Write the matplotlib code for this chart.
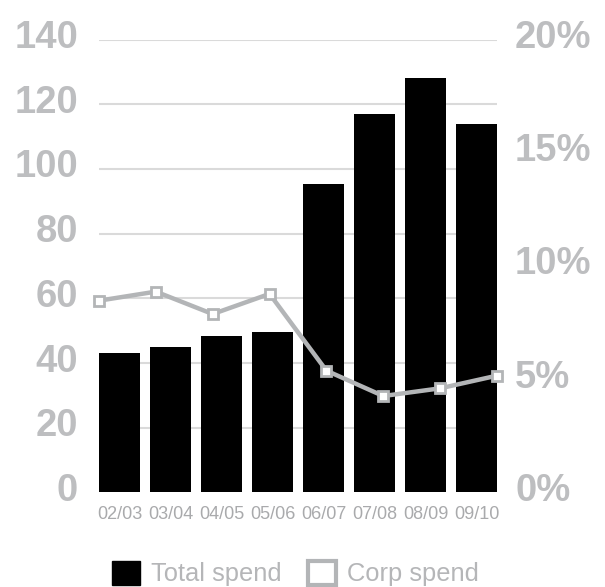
import numpy as np
import matplotlib
matplotlib.use("Agg")
import matplotlib.pyplot as plt
import matplotlib.transforms as mtransforms
from matplotlib.patches import Patch

# données
years = ["02/03", "03/04", "04/05", "05/06", "06/07", "07/08", "08/09", "09/10"]
total_spend = [43, 45, 48.5, 49.5, 95.5, 117, 128, 114]
corp_spend_pct = [8.47, 8.87, 7.88, 8.77, 5.38, 4.26, 4.6, 5.16]
left_ticks = [0, 20, 40, 60, 80, 100, 120, 140]
right_ticks = [0, 5, 10, 15, 20]

label_grey = "#bdbec0"
line_grey = "#b3b5b7"
grid_grey = "#dadada"
tick_font = {"family": "Liberation Sans", "weight": "bold", "size": 27.5}

fig = plt.figure(figsize=(6.05, 5.87), dpi=100)
rect = [0.1636, 0.161, 0.6579, 0.7716]
lift = mtransforms.ScaledTranslation(0, 4 / 72, fig.dpi_scale_trans)

# barres (axe de gauche)
ax = fig.add_axes(rect)
x = np.arange(len(years))
ax.bar(x, total_spend, width=0.8, color="black", zorder=2)
ax.set_xlim(-0.4, len(years) - 0.6)
ax.set_ylim(0, 140)
ax.set_yticks(left_ticks)
ax.set_yticklabels([str(t) for t in left_ticks], color=label_grey, **tick_font)
ax.set_xticks(x)
ax.set_xticklabels(years, fontsize=13, color="#a9aaac", family="Liberation Sans")
ax.tick_params(axis="y", length=0, pad=15)
ax.tick_params(axis="x", length=0, pad=10)
ax.grid(axis="y", color=grid_grey, linewidth=1.5, zorder=0)
ax.get_ygridlines()[0].set_visible(False)
ax.set_axisbelow(True)
for s in ax.spines.values():
    s.set_visible(False)
for lab in ax.get_yticklabels():
    lab.set_transform(lab.get_transform() + lift)

# courbe en % (axe de droite)
ax2 = fig.add_axes(rect)
ax2.patch.set_alpha(0)
ax2.plot(range(len(years)), corp_spend_pct, color=line_grey, linewidth=3.2,
         marker="s", markersize=7.5, markerfacecolor="white",
         markeredgecolor=line_grey, markeredgewidth=2, clip_on=False)
ax2.set_xlim(0, len(years) - 1)
ax2.set_ylim(0, 20)
ax2.set_xticks([])
ax2.yaxis.tick_right()
ax2.set_yticks(right_ticks)
ax2.set_yticklabels([f"{t}%" for t in right_ticks], color=label_grey, **tick_font)
ax2.tick_params(axis="y", length=0, pad=13)
for s in ax2.spines.values():
    s.set_visible(False)
for lab in ax2.get_yticklabels():
    lab.set_transform(lab.get_transform() + lift)

# légende
handles = [Patch(facecolor="black", edgecolor="black"),
           Patch(facecolor="white", edgecolor=line_grey, linewidth=3)]
leg = fig.legend(handles, ["Total spend", "Corp spend"], loc="center",
                 bbox_to_anchor=(0.4884, 0.023), ncol=2, frameon=False,
                 prop={"family": "Liberation Sans", "size": 18.4},
                 handlelength=1.1, handleheight=1.1, handletextpad=0.45,
                 columnspacing=1.0, borderpad=0)
for t in leg.get_texts():
    t.set_color("#b5b6b8")

fig.savefig("out.png", dpi=100)
